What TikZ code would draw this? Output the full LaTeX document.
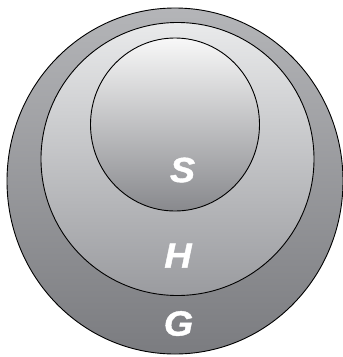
\documentclass[tikz,border=0pt]{standalone}
\usepackage{fontspec}
\setmainfont{Liberation Sans}
\newfontfamily\lblfont[FakeBold=1.2,FakeStretch=1.08]{Liberation Sans Bold Italic}
\begin{document}
\begin{tikzpicture}[x=1bp,y=-1bp]
\definecolor{gtop}{HTML}{B4B5B8}
\definecolor{gbot}{HTML}{7B7C80}
\definecolor{htop}{HTML}{E9EAEB}
\definecolor{hbot}{HTML}{9A9B9F}
\definecolor{stop}{HTML}{F8F8F8}
\definecolor{sbot}{HTML}{88898D}
\tikzset{
  ring/.style={draw=black,line width=0.9bp},
  lbl/.style={text=white,font=\fontsize{35bp}{35bp}\lblfont,inner sep=0pt}
}
\useasboundingbox (0,0) rectangle (343,357);
\path[ring,top color=gtop,bottom color=gbot] (175,181) ellipse [x radius=168, y radius=173];
\path[ring,top color=htop,bottom color=hbot] (177.5,159) circle [radius=136.5];
\path[ring,top color=stop,bottom color=sbot] (175,124.5) ellipse [x radius=84.5, y radius=86.5];
\node[lbl] (S) at (182.5,170) {S};
\node[lbl] (H) at (178,255.5) {H};
\node[lbl] (G) at (178.5,323.5) {G};
\end{tikzpicture}
\end{document}
